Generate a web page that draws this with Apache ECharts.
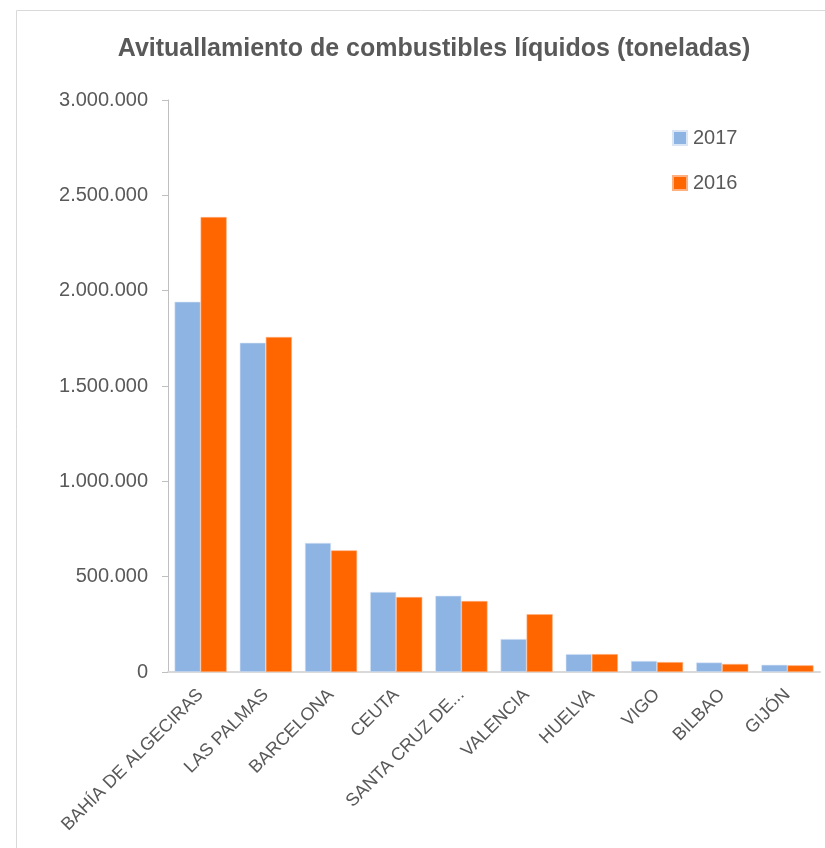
<!DOCTYPE html>
<html>
<head>
<meta charset="utf-8">
<script src="https://cdn.jsdelivr.net/npm/echarts@6/dist/echarts.min.js"></script>
<style>
  html, body { margin: 0; padding: 0; background: #fff; }
  #chart { width: 825px; height: 848px; }
</style>
</head>
<body>
<div id="chart"></div>
<script>
const ports = ['BAHÍA DE ALGECIRAS', 'LAS PALMAS', 'BARCELONA', 'CEUTA', 'SANTA CRUZ DE...',
  'VALENCIA', 'HUELVA', 'VIGO', 'BILBAO', 'GIJÓN'];
const values2017 = [1942000, 1727000, 677000, 420000, 400000, 173000, 94000, 58000, 50000, 38000];
const values2016 = [2386000, 1757000, 638000, 393000, 372000, 303000, 94000, 52000, 42000, 35000];
const yTicks = [0, 500000, 1000000, 1500000, 2000000, 2500000, 3000000];

const textColor = '#595959';

const fmt = (v) => String(v).replace(/\B(?=(\d{3})+(?!\d))/g, '.');

const chart = echarts.init(document.getElementById('chart'));

const options = {
  animation: false,
  title: {
    text: 'Avituallamiento de combustibles líquidos (toneladas)',
    left: 429,
    textAlign: 'center',
    top: 32,
    textStyle: {
      fontFamily: '"Liberation Sans", Arial, sans-serif',
      fontWeight: 'bold',
      fontSize: 25,
      color: textColor,
    },
  },
  legend: {
    data: ['2017', '2016'],
    orient: 'vertical',
    left: 667,
    top: 123,
    itemWidth: 14,
    itemHeight: 14,
    itemGap: 25,
    icon: 'rect',
    textStyle: {
      fontFamily: '"Liberation Sans", Arial, sans-serif',
      fontSize: 20,
      color: textColor,
      padding: [0, 0, 0, 1],
    },
  },
  graphic: [
    {
      type: 'polyline',
      shape: { points: [[16.5, 860], [16.5, 10.5], [840, 10.5]] },
      style: { stroke: '#d9d9d9', lineWidth: 1, fill: null },
      silent: true,
    },
  ],
  grid: {
    left: 168,
    right: 5,
    top: 100,
    bottom: 176,
    containLabel: false,
  },
  xAxis: {
    type: 'category',
    data: ports,
    axisLine: {
      show: true,
      lineStyle: { color: '#d9d9d9', width: 2 },
    },
    axisTick: { show: false },
    axisLabel: {
      rotate: 45,
      interval: 0,
      margin: 20,
      fontFamily: '"Liberation Sans", Arial, sans-serif',
      fontSize: 18,
      color: textColor,
    },
  },
  yAxis: {
    type: 'value',
    min: yTicks[0],
    max: yTicks[yTicks.length - 1],
    interval: 500000,
    axisLine: {
      show: true,
      lineStyle: { color: '#bfbfbf', width: 1 },
    },
    axisTick: {
      show: true,
      length: 6,
      lineStyle: { color: '#bfbfbf' },
    },
    splitLine: { show: false },
    axisLabel: {
      margin: 20,
      fontFamily: '"Liberation Sans", Arial, sans-serif',
      fontSize: 20,
      color: textColor,
      formatter: fmt,
    },
  },
  series: [
    {
      name: '2017',
      type: 'bar',
      data: values2017,
      barGap: '0%',
      barCategoryGap: '20%',
      itemStyle: { color: '#8eb4e3', borderColor: '#dbe6f5', borderWidth: 0.6 },
    },
    {
      name: '2016',
      type: 'bar',
      data: values2016,
      barGap: '0%',
      barCategoryGap: '20%',
      itemStyle: { color: '#ff6600', borderColor: '#ffb080', borderWidth: 0.6 },
    },
  ],
};

chart.setOption(options);
</script>
</body>
</html>
